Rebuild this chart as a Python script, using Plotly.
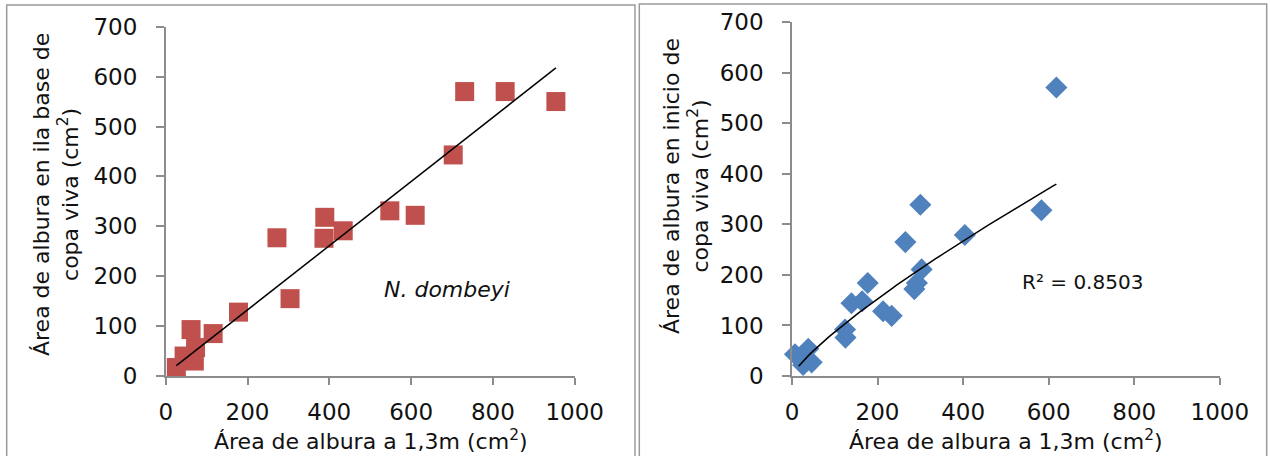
import numpy as np
import plotly.graph_objects as go

# ---- Data: N. dombeyi (left panel) ----
nd_x = [731, 830, 954, 703, 548, 610, 389, 434, 387, 272, 304, 178, 116, 62, 73, 45, 70, 26]
nd_y = [570, 570, 550, 443, 331, 322, 318, 291, 276, 277, 155, 128, 85, 93, 57, 40, 30, 17]

# ---- Data: right panel ----
rp_x = [618, 583, 300, 404, 265, 303, 292, 286, 177, 164, 139, 213, 233, 124, 125, 7, 38, 46, 26]
rp_y = [571, 328, 339, 279, 265, 211, 184, 172, 184, 148, 144, 128, 119, 92, 76, 43, 54, 27, 22]

# trend coefficients as drawn in the reference
lin_slope, lin_intercept = 0.643, 3.9          # left: linear  y = m x + c
pow_a, pow_b, pow_xmin = 2.125, 0.807, 15.5    # right: power  y = a x^b
r2_text = "R² = 0.8503"
species_text = "N. dombeyi"

x_ticks = [0, 200, 400, 600, 800, 1000]
y_ticks = [0, 100, 200, 300, 400, 500, 600, 700]

x_title = "Área de albura a 1,3m (cm<sup>2</sup>)"
y_title_left = "Área de albura en ila base de<br>copa viva (cm<sup>2</sup>)"
y_title_right = "Área de albura en inicio de<br>copa viva (cm<sup>2</sup>)"

W, H = 1270, 456
FONT = "DejaVu Sans"
AX_COL = "#8c8c8c"


def px(v):
    return v / W


def py(v):
    return (H - v) / H


tl_x = np.linspace(min(nd_x), max(nd_x), 50)
tl_y = lin_slope * tl_x + lin_intercept

tr_x = np.linspace(pow_xmin, max(rp_x), 80)
tr_y = pow_a * tr_x ** pow_b

fig = go.Figure()
fig.add_trace(go.Scatter(x=nd_x, y=nd_y, mode="markers", xaxis="x", yaxis="y",
                         marker=dict(symbol="square", size=19, color="#C0504D", line=dict(width=0)),
                         cliponaxis=False))
fig.add_trace(go.Scatter(x=tl_x, y=tl_y, mode="lines", xaxis="x", yaxis="y",
                         line=dict(color="black", width=1.5)))
fig.add_trace(go.Scatter(x=rp_x, y=rp_y, mode="markers", xaxis="x2", yaxis="y2",
                         marker=dict(symbol="diamond", size=17, color="#4F81BD", line=dict(width=0)),
                         cliponaxis=False))
fig.add_trace(go.Scatter(x=tr_x, y=tr_y, mode="lines", xaxis="x2", yaxis="y2",
                         line=dict(color="black", width=1.5)))

axis_common = dict(showgrid=False, zeroline=False, showline=True, linecolor=AX_COL, linewidth=1.5,
                   ticks="outside", tickcolor=AX_COL, tickwidth=1.5, automargin=False,
                   tickfont=dict(family=FONT, size=23, color="#111111"))

fig.update_layout(
    width=W, height=H, autosize=False,
    margin=dict(l=0, r=0, t=0, b=0),
    paper_bgcolor="white", plot_bgcolor="white",
    showlegend=False,
    xaxis=dict(domain=[px(165.7), px(574.7)], range=[0, 1000], tickvals=x_ticks, ticklen=7,
               ticklabelstandoff=8, anchor="y", **axis_common),
    yaxis=dict(domain=[py(376), py(26.7)], range=[0, 700], tickvals=y_ticks, ticklen=8,
               ticklabelstandoff=14, anchor="x", **axis_common),
    xaxis2=dict(domain=[px(792), px(1219.8)], range=[0, 1000], tickvals=x_ticks, ticklen=7,
                ticklabelstandoff=8, anchor="y2", **axis_common),
    yaxis2=dict(domain=[py(376), py(22.3)], range=[0, 700], tickvals=y_ticks, ticklen=8,
                ticklabelstandoff=14, anchor="x2", **axis_common),
)

tfont = dict(family=FONT, size=22, color="#111111")
fig.add_annotation(x=px(371), y=py(440), xref="paper", yref="paper", text=x_title,
                   showarrow=False, font=tfont, xanchor="center", yanchor="middle")
fig.add_annotation(x=px(1005.5), y=py(440), xref="paper", yref="paper", text=x_title,
                   showarrow=False, font=tfont, xanchor="center", yanchor="middle")
fig.add_annotation(x=px(56), y=py(195), xref="paper", yref="paper", text=y_title_left,
                   showarrow=False, font=tfont, textangle=-90, xanchor="center", yanchor="middle")
fig.add_annotation(x=px(686), y=py(186), xref="paper", yref="paper", text=y_title_right,
                   showarrow=False, font=tfont, textangle=-90, xanchor="center", yanchor="middle")

fig.add_annotation(x=688, y=173, xref="x", yref="y", text="<i>" + species_text + "</i>",
                   showarrow=False, font=dict(family=FONT, size=22, color="#111111"))
fig.add_annotation(x=679, y=187, xref="x2", yref="y2", text=r2_text,
                   showarrow=False, font=dict(family=FONT, size=20, color="#111111"))

# panel borders
fig.add_shape(type="rect", xref="paper", yref="paper", x0=px(6.7), x1=px(635), y0=py(470), y1=py(5),
              line=dict(color="#9a9a9a", width=1.5))
fig.add_shape(type="rect", xref="paper", yref="paper", x0=px(639.3), x1=px(1266.7), y0=py(470), y1=py(4),
              line=dict(color="#9a9a9a", width=1.5))

fig.write_html("out.html", config={"displayModeBar": False},
               post_script="document.body.style.margin='0px';document.body.style.overflow='hidden';")
